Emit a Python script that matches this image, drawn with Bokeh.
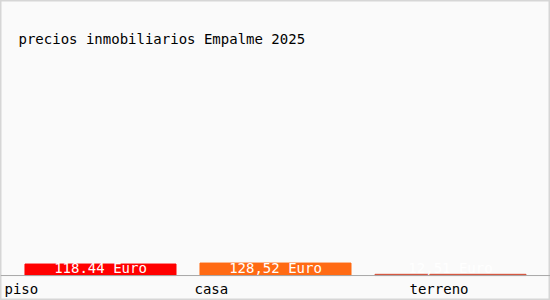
from bokeh.plotting import figure
from bokeh.models import FactorRange, Range1d, Span, ColumnDataSource, Label
from bokeh.core.properties import value
from bokeh.embed import file_html
from bokeh.resources import INLINE

title_text = "precios inmobiliarios Empalme 2025"
categories = ["piso", "casa", "terreno"]
prices = [118.44, 128.52, 12.51]
price_labels = ["118.44 Euro", "128,52 Euro", "12,51 Euro"]
bar_colors = ["#ff0000", "#ff6a13", "#d4503a"]
cat_label_offsets = [-96, -81, -41]

FONT = "DejaVu Sans Mono"

src = ColumnDataSource(dict(cat=categories, val=prices, lab=price_labels,
                            col=bar_colors, off=cat_label_offsets,
                            zero=[0] * len(categories)))

p = figure(width=550, height=300,
           x_range=FactorRange(*categories, range_padding=0.0714,
                               range_padding_units="absolute"),
           y_range=Range1d(-257, 2832),
           output_backend="svg", toolbar_location=None,
           min_border=0,
           background_fill_color="#fafafa", border_fill_color="#fafafa",
           outline_line_color="#d6d6d6", outline_line_width=2)

p.xaxis.visible = False
p.yaxis.visible = False
p.xgrid.visible = False
p.ygrid.visible = False

p.add_layout(Label(x=18, y=262, x_units="screen", y_units="screen",
                   text=title_text, text_font=FONT, text_font_size="14px",
                   text_color="#000000", text_baseline="middle"))

p.vbar(x="cat", top="val", bottom=0, width=0.863, source=src,
       fill_color="col", line_color="col", line_width=1)

p.add_layout(Span(location=0, dimension="width", line_color="#a8a8a8",
                  line_width=1))

p.text(x="cat", y="zero", text="lab", source=src, text_color="#ffffff",
       text_font=value(FONT), text_font_size="14px", text_align="center",
       text_baseline="middle", y_offset=-8)

p.text(x="cat", y="zero", text="cat", source=src, text_color="#000000",
       text_font=value(FONT), text_font_size="14px", text_align="left",
       text_baseline="middle", x_offset="off", y_offset=13)

open("out.html", "w").write(file_html(p, INLINE))
